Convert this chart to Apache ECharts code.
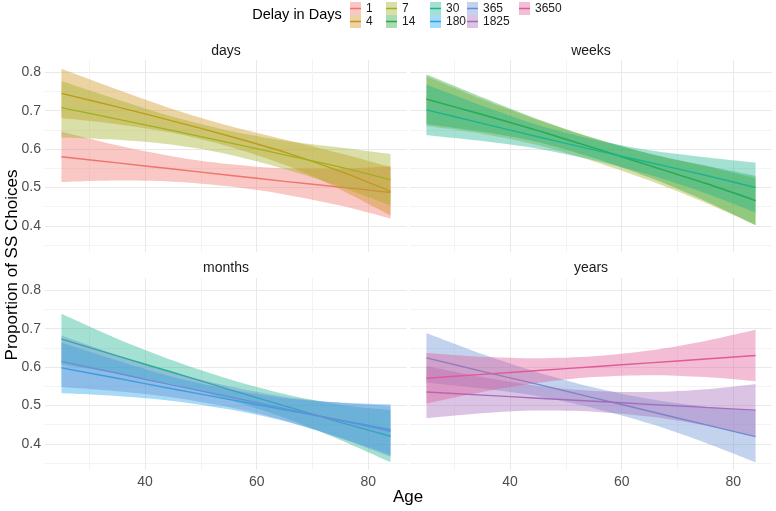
<!DOCTYPE html>
<html>
<head>
<meta charset="utf-8">
<script src="https://cdn.jsdelivr.net/npm/echarts@6/dist/echarts.min.js"></script>
<style>html,body{margin:0;padding:0;background:#fff;}#c{width:776px;height:511px;}</style>
</head>
<body>
<div id="c"></div>
<script>
// ---------------- DATA ----------------
const ages = [25, 35, 45, 55, 65, 75, 84];
const facetNames = ['days', 'weeks', 'months', 'years'];
const delayLevels = ['1', '4', '7', '14', '30', '180', '365', '1825', '3650'];
const yMajorTicks = [0.4, 0.5, 0.6, 0.7, 0.8];
const yMinorTicks = [0.35, 0.45, 0.55, 0.65, 0.75];
const xMajorTicks = [40, 60, 80];
const xMinorTicks = [30, 50, 70];

// days facet
const days_1_fit = [0.580, 0.564, 0.548, 0.532, 0.516, 0.501, 0.487];
const days_1_lo  = [0.514, 0.518, 0.515, 0.503, 0.482, 0.453, 0.419];
const days_1_hi  = [0.646, 0.610, 0.581, 0.561, 0.550, 0.549, 0.555];
const days_4_fit = [0.745, 0.710, 0.673, 0.634, 0.592, 0.542, 0.490];
const days_4_lo  = [0.681, 0.665, 0.642, 0.607, 0.559, 0.495, 0.427];
const days_4_hi  = [0.809, 0.755, 0.704, 0.661, 0.625, 0.589, 0.553];
const days_7_fit = [0.708, 0.678, 0.648, 0.617, 0.585, 0.553, 0.520];
const days_7_lo  = [0.630, 0.624, 0.611, 0.586, 0.548, 0.502, 0.453];
const days_7_hi  = [0.777, 0.729, 0.684, 0.648, 0.622, 0.604, 0.587];
// weeks facet
const weeks_7_fit  = [0.730, 0.690, 0.648, 0.603, 0.557, 0.511, 0.466];
const weeks_7_lo   = [0.660, 0.640, 0.610, 0.568, 0.518, 0.460, 0.402];
const weeks_7_hi   = [0.790, 0.730, 0.676, 0.628, 0.588, 0.556, 0.524];
const weeks_14_fit = [0.730, 0.690, 0.648, 0.603, 0.557, 0.511, 0.466];
const weeks_14_lo  = [0.665, 0.645, 0.618, 0.577, 0.526, 0.465, 0.402];
const weeks_14_hi  = [0.795, 0.735, 0.678, 0.629, 0.588, 0.557, 0.530];
const weeks_30_fit = [0.702, 0.667, 0.632, 0.598, 0.565, 0.532, 0.500];
const weeks_30_lo  = [0.636, 0.621, 0.601, 0.571, 0.533, 0.485, 0.435];
const weeks_30_hi  = [0.768, 0.713, 0.663, 0.625, 0.597, 0.579, 0.565];
// months facet
const months_30_fit  = [0.673, 0.629, 0.586, 0.542, 0.499, 0.456, 0.420];
const months_30_lo   = [0.607, 0.584, 0.555, 0.515, 0.468, 0.410, 0.352];
const months_30_hi   = [0.739, 0.674, 0.617, 0.569, 0.530, 0.502, 0.488];
const months_180_fit = [0.598, 0.571, 0.543, 0.516, 0.489, 0.462, 0.437];
const months_180_lo  = [0.532, 0.525, 0.512, 0.490, 0.459, 0.416, 0.371];
const months_180_hi  = [0.664, 0.617, 0.574, 0.542, 0.519, 0.508, 0.503];
const months_365_fit = [0.615, 0.584, 0.553, 0.523, 0.492, 0.461, 0.433];
const months_365_lo  = [0.548, 0.537, 0.521, 0.496, 0.461, 0.415, 0.367];
const months_365_hi  = [0.682, 0.631, 0.585, 0.550, 0.523, 0.507, 0.499];
// years facet
const years_365_fit  = [0.624, 0.589, 0.555, 0.520, 0.485, 0.450, 0.419];
const years_365_lo   = [0.559, 0.544, 0.524, 0.493, 0.453, 0.403, 0.352];
const years_365_hi   = [0.689, 0.634, 0.586, 0.547, 0.517, 0.497, 0.486];
const years_1825_fit = [0.535, 0.527, 0.519, 0.511, 0.503, 0.495, 0.488];
const years_1825_lo  = [0.467, 0.480, 0.487, 0.484, 0.471, 0.448, 0.420];
const years_1825_hi  = [0.603, 0.574, 0.551, 0.538, 0.535, 0.542, 0.556];
const years_3650_fit = [0.571, 0.581, 0.591, 0.601, 0.611, 0.621, 0.630];
const years_3650_lo  = [0.505, 0.535, 0.559, 0.574, 0.579, 0.574, 0.563];
const years_3650_hi  = [0.637, 0.627, 0.623, 0.628, 0.643, 0.668, 0.697];

// ---------------- STYLE ----------------
const delayColors = {
  '1': '#ef746b', '4': '#d0901a', '7': '#9fb021', '14': '#2aa844', '30': '#1cb38f',
  '180': '#1ea6ea', '365': '#6a8fd2', '1825': '#a46cb8', '3650': '#e05a98'
};
const bandAlpha = 0.4;

const groups = [
  [0, '1', days_1_fit, days_1_lo, days_1_hi],
  [0, '4', days_4_fit, days_4_lo, days_4_hi],
  [0, '7', days_7_fit, days_7_lo, days_7_hi],
  [1, '7', weeks_7_fit, weeks_7_lo, weeks_7_hi],
  [1, '14', weeks_14_fit, weeks_14_lo, weeks_14_hi],
  [1, '30', weeks_30_fit, weeks_30_lo, weeks_30_hi],
  [2, '30', months_30_fit, months_30_lo, months_30_hi],
  [2, '180', months_180_fit, months_180_lo, months_180_hi],
  [2, '365', months_365_fit, months_365_lo, months_365_hi],
  [3, '365', years_365_fit, years_365_lo, years_365_hi],
  [3, '1825', years_1825_fit, years_1825_lo, years_1825_hi],
  [3, '3650', years_3650_fit, years_3650_lo, years_3650_hi]
];

function blend(hex, a) {
  const r = parseInt(hex.slice(1, 3), 16), g = parseInt(hex.slice(3, 5), 16), b = parseInt(hex.slice(5, 7), 16);
  const m = v => Math.round(v * a + 255 * (1 - a));
  return 'rgb(' + m(r) + ',' + m(g) + ',' + m(b) + ')';
}

const FONT = 'Liberation Sans, Arial, sans-serif';
const gridBoxes = [
  { left: 45, top: 60, width: 362, height: 192 },
  { left: 410, top: 60, width: 362, height: 192 },
  { left: 45, top: 278, width: 362, height: 192 },
  { left: 410, top: 278, width: 362, height: 192 }
];
const YMIN = 0.332, YMAX = 0.832, XMIN = 22.05, XMAX = 86.95;

const grids = gridBoxes.map(b => Object.assign({ containLabel: false }, b));
const xAxes = [], yAxes = [];
gridBoxes.forEach((b, g) => {
  xAxes.push({
    type: 'value', gridIndex: g, min: XMIN, max: XMAX,
    axisLine: { show: false }, axisTick: { show: false, customValues: xMajorTicks },
    axisLabel: { show: g >= 2, customValues: xMajorTicks, color: '#4d4d4d', fontSize: 14, fontFamily: FONT, margin: 5 },
    splitLine: { show: true, lineStyle: { color: '#e9e9e9', width: 1 } }
  });
  xAxes.push({
    type: 'value', gridIndex: g, min: XMIN, max: XMAX, position: 'bottom',
    axisLine: { show: false }, axisTick: { show: false, customValues: xMinorTicks },
    axisLabel: { show: false, customValues: xMinorTicks },
    splitLine: { show: true, lineStyle: { color: '#f3f3f3', width: 1 } }
  });
  yAxes.push({
    type: 'value', gridIndex: g, min: YMIN, max: YMAX,
    axisLine: { show: false }, axisTick: { show: false, customValues: yMajorTicks },
    axisLabel: { show: g % 2 === 0, customValues: yMajorTicks, color: '#4d4d4d', fontSize: 14, fontFamily: FONT, margin: 4,
      formatter: v => v.toFixed(1) },
    splitLine: { show: true, lineStyle: { color: '#e9e9e9', width: 1 } }
  });
  yAxes.push({
    type: 'value', gridIndex: g, min: YMIN, max: YMAX, position: 'left',
    axisLine: { show: false }, axisTick: { show: false, customValues: yMinorTicks },
    axisLabel: { show: false, customValues: yMinorTicks },
    splitLine: { show: true, lineStyle: { color: '#f3f3f3', width: 1 } }
  });
});

const series = [];
groups.forEach(([g, key, fit, lo, hi], i) => {
  const col = delayColors[key];
  const stackId = 'band' + i;
  // each group (ribbon + line) drawn above the previous one, like ggplot's per-group drawing
  const common = { type: 'line', xAxisIndex: 2 * g, yAxisIndex: 2 * g, symbol: 'none', smooth: 0.3, silent: true, z: 3 + i };
  // data stored as [value, age] so the stacked dimension is the y value
  series.push(Object.assign({}, common, {
    name: facetNames[g] + '-' + key + '-lo', stack: stackId,
    encode: { x: 1, y: 0 },
    lineStyle: { opacity: 0, width: 0 },
    data: ages.map((a, j) => [lo[j], a])
  }));
  series.push(Object.assign({}, common, {
    name: facetNames[g] + '-' + key + '-band', stack: stackId,
    encode: { x: 1, y: 0 },
    lineStyle: { opacity: 0, width: 0 },
    areaStyle: { color: col, opacity: bandAlpha },
    data: ages.map((a, j) => [hi[j] - lo[j], a])
  }));
  series.push(Object.assign({}, common, {
    name: facetNames[g] + '-' + key + '-fit',
    lineStyle: { color: col, width: 1.4 },
    data: ages.map((a, j) => [a, fit[j]])
  }));
});
// legend-only entries
delayLevels.forEach(k => {
  series.push({ type: 'bar', name: k, xAxisIndex: 0, yAxisIndex: 0, data: [], itemStyle: { color: delayColors[k] } });
});

const legendCols = [['1', '4'], ['7', '14'], ['30', '180'], ['365', '1825'], ['3650']];
const legendLefts = [350, 386, 430, 467, 519];
const legends = [];
legendCols.forEach((names, c) => {
  const base = {
    orient: 'vertical', left: legendLefts[c], top: 2, itemWidth: 11, itemGap: 0, padding: 0,
    selectedMode: false
  };
  legends.push(Object.assign({}, base, {
    itemHeight: 13,
    textStyle: { fontSize: 12, lineHeight: 13, color: '#1a1a1a', fontFamily: FONT },
    data: names.map(n => ({ name: n, icon: 'rect', itemStyle: { color: blend(delayColors[n], bandAlpha), borderWidth: 0 } }))
  }));
  legends.push(Object.assign({}, base, {
    itemHeight: 1.5,
    textStyle: { fontSize: 12, lineHeight: 13, color: 'rgba(0,0,0,0)', fontFamily: FONT },
    data: names.map(n => ({ name: n, icon: 'rect', itemStyle: { color: delayColors[n], borderWidth: 0 } }))
  }));
});

function txt(text, x, y, size, color, rot) {
  return {
    type: 'text', x: x, y: y, rotation: rot || 0, silent: true,
    style: { text: text, fill: color, font: size + 'px ' + FONT, textAlign: 'center', textVerticalAlign: 'middle', align: 'center', verticalAlign: 'middle' }
  };
}
const graphics = [
  txt('Delay in Days', 297, 15, 14.5, '#000'),
  txt(facetNames[0], 226, 51, 14, '#1a1a1a'),
  txt(facetNames[1], 591, 51, 14, '#1a1a1a'),
  txt(facetNames[2], 226, 268, 14, '#1a1a1a'),
  txt(facetNames[3], 591, 268, 14, '#1a1a1a'),
  txt('Age', 408, 497, 17, '#000'),
  txt('Proportion of SS Choices', 12, 265, 17, '#000', Math.PI / 2)
];

const chart = echarts.init(document.getElementById('c'), null, { renderer: 'canvas' });
chart.setOption({
  animation: false,
  backgroundColor: '#fff',
  grid: grids,
  xAxis: xAxes,
  yAxis: yAxes,
  legend: legends,
  graphic: graphics,
  series: series
});
</script>
</body>
</html>
